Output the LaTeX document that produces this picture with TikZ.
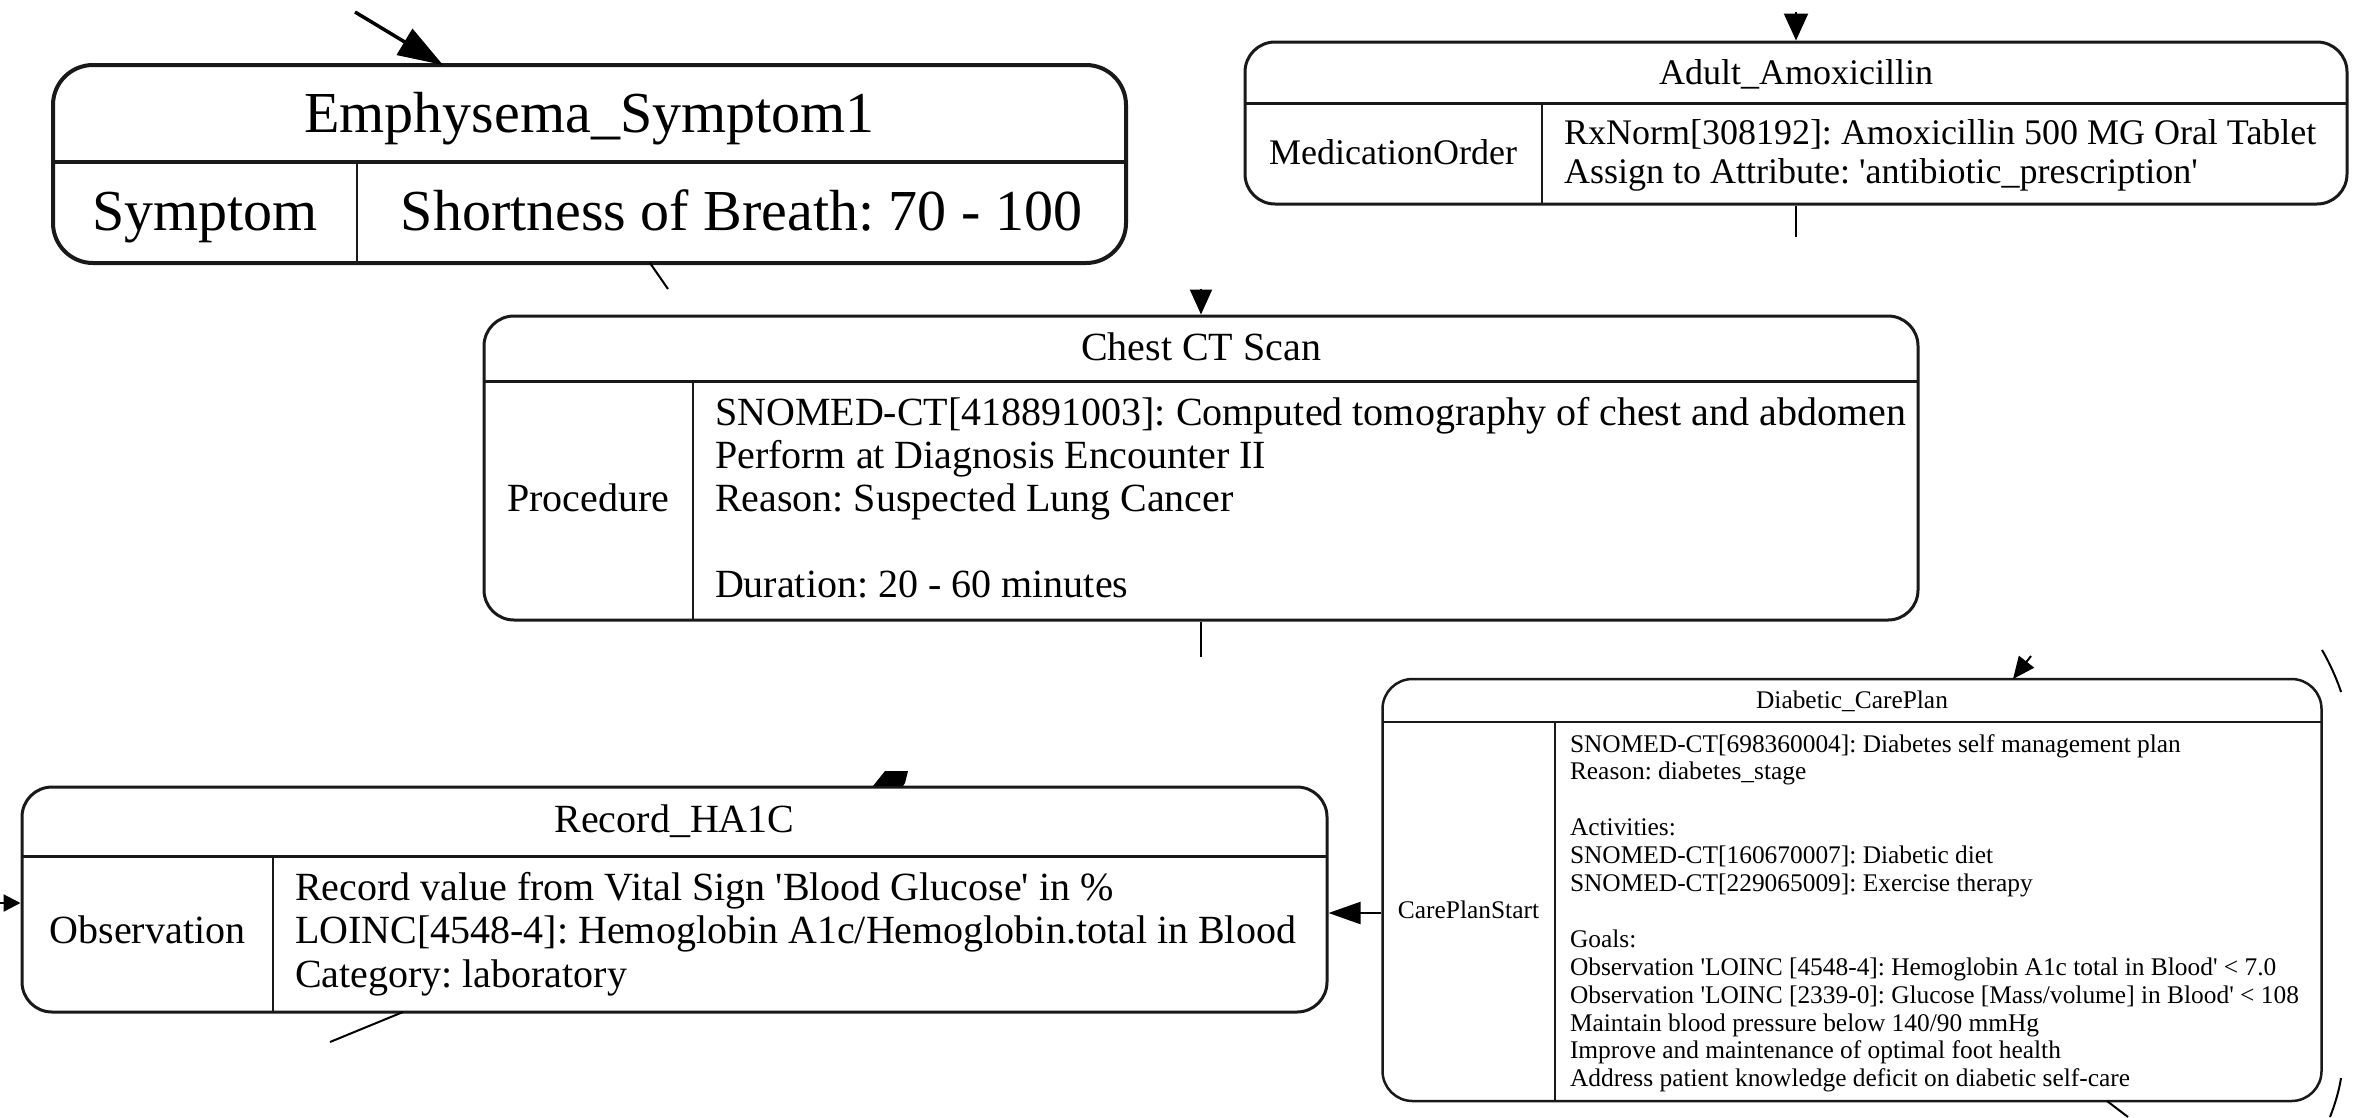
\documentclass[tikz,border=0pt]{standalone}
\usepackage{fontspec}
\setmainfont{Liberation Serif}[Ligatures=TeXOff]
\usetikzlibrary{arrows.meta}
\newcommand\fEm{\fontsize{58}{64}\selectfont}
\newcommand\fAm{\fontsize{36}{40}\selectfont}
\newcommand\fCh{\fontsize{40}{43}\selectfont}
\newcommand\fRe{\fontsize{40}{45}\selectfont}
\newcommand\fDi{\fontsize{25.4}{28}\selectfont}
\begin{document}
\frenchspacing
\begin{tikzpicture}[x=1pt,y=-1pt,
  box/.style={draw=black!90, fill=white, inner sep=0pt, rectangle, rounded corners=30pt},
  div/.style={draw=black!90},
  txt/.style={inner sep=0pt, outer sep=0pt, anchor=base},
  ln/.style={inner sep=0pt, outer sep=0pt, anchor=base west},
  edge/.style={draw=black, line width=2.2pt},
]
\useasboundingbox (0,0) rectangle (2356,1117);

% ---------- Emphysema_Symptom1 ----------
\node[box, line width=4pt, rounded corners=40pt, minimum width=1073pt, minimum height=198pt] (emph) at (589.5,164) {};
\draw[div, line width=3.5pt] (53,162) -- (1126,162);
\draw[div, line width=2.5pt] (357,162) -- (357,263);
\node[txt, font=\fEm] (emphT) at (589.5,132) {Emphysema\_Symptom1};
\node[txt, font=\fEm] (emphK) at (205,230) {Symptom};
\node[txt, font=\fEm] (emphV) at (741.5,230) {Shortness of Breath: 70 - 100};

% ---------- Adult_Amoxicillin ----------
\node[box, line width=3pt, minimum width=1102pt, minimum height=162pt] (amox) at (1796,123) {};
\draw[div, line width=3pt] (1245,103) -- (2347,103);
\draw[div, line width=2pt] (1542,103) -- (1542,204);
\node[txt, font=\fAm] (amoxT) at (1796,84) {Adult\_Amoxicillin};
\node[txt, font=\fAm] (amoxK) at (1393,164) {MedicationOrder};
\node[ln, font=\fAm] (amoxV1) at (1564,144) {RxNorm[308192]: Amoxicillin 500 MG Oral Tablet};
\node[ln, font=\fAm] (amoxV2) at (1564,183) {Assign to Attribute: 'antibiotic\_prescription'};

% ---------- Chest CT Scan ----------
\node[box, line width=3pt, minimum width=1434pt, minimum height=304pt] (chest) at (1201,468) {};
\draw[div, line width=3pt] (484,381) -- (1918,381);
\draw[div, line width=2pt] (693,381) -- (693,620);
\node[txt, font=\fCh] (chestT) at (1201,360) {Chest CT Scan};
\node[txt, font=\fCh] (chestK) at (588.5,511) {Procedure};
\node[ln, font=\fCh] (chestV1) at (715,425) {SNOMED-CT[418891003]: Computed tomography of chest and abdomen};
\node[ln, font=\fCh] (chestV2) at (715,468) {Perform at Diagnosis Encounter II};
\node[ln, font=\fCh] (chestV3) at (715,511) {Reason: Suspected Lung Cancer};
\node[ln, font=\fCh] (chestV5) at (715,597) {Duration: 20 - 60 minutes};

% ---------- Record_HA1C ----------
\node[box, line width=3pt, minimum width=1305pt, minimum height=225pt] (rec) at (674.5,899.5) {};
\draw[div, line width=3pt] (22,856) -- (1327,856);
\draw[div, line width=2pt] (273,856) -- (273,1012);
\node[txt, font=\fRe] (recT) at (674.5,832) {Record\_HA1C};
\node[txt, font=\fRe] (recK) at (147.5,943.5) {Observation};
\node[ln, font=\fRe] (recV1) at (295,900) {Record value from Vital Sign 'Blood Glucose' in \%};
\node[ln, font=\fRe] (recV2) at (295,943.5) {LOINC[4548-4]: Hemoglobin A1c/Hemoglobin.total in Blood};
\node[ln, font=\fRe] (recV3) at (295,987) {Category: laboratory};

% ---------- Diabetic_CarePlan ----------
\node[box, line width=2.5pt, minimum width=939pt, minimum height=422pt] (diab) at (1852,890) {};
\draw[div, line width=2.5pt] (1382,722) -- (2321,722);
\draw[div, line width=2pt] (1555,722) -- (1555,1101);
\node[txt, font=\fDi] (diabT) at (1852,708) {Diabetic\_CarePlan};
\node[txt, font=\fDi] (diabK) at (1468.5,918) {CarePlanStart};
\node[ln, font=\fDi] (diabV1) at (1570,752) {SNOMED-CT[698360004]: Diabetes self management plan};
\node[ln, font=\fDi] (diabV2) at (1570,779.9) {Reason: diabetes\_stage};
\node[ln, font=\fDi] (diabV4) at (1570,835.7) {Activities:};
\node[ln, font=\fDi] (diabV5) at (1570,863.6) {SNOMED-CT[160670007]: Diabetic diet};
\node[ln, font=\fDi] (diabV6) at (1570,891.5) {SNOMED-CT[229065009]: Exercise therapy};
\node[ln, font=\fDi] (diabV8) at (1570,947.3) {Goals:};
\node[ln, font=\fDi] (diabV9) at (1570,975.2) {Observation 'LOINC [4548-4]: Hemoglobin A1c total in Blood' < 7.0};
\node[ln, font=\fDi] (diabV10) at (1570,1003.1) {Observation 'LOINC [2339-0]: Glucose [Mass/volume] in Blood' < 108};
\node[ln, font=\fDi] (diabV11) at (1570,1031) {Maintain blood pressure below 140/90 mmHg};
\node[ln, font=\fDi] (diabV12) at (1570,1058.9) {Improve and maintenance of optimal foot health};
\node[ln, font=\fDi] (diabV13) at (1570,1086.8) {Address patient knowledge deficit on diabetic self-care};

% ---------- connectors ----------
\coordinate (c1s) at (355,12);
\coordinate (c1t) at (443,65);
\draw[edge, line width=3.5pt, -{Triangle[length=45pt,width=30pt]}] (c1s) -- (c1t);

\coordinate (c2s) at (650,263);
\coordinate (c2e) at (668,289);
\draw[edge, line width=2pt] (c2s) -- (c2e);

\coordinate (c3s) at (1796,12);
\draw[edge, -{Triangle[length=27pt,width=24pt]}] (c3s) -- (amox.north);

\coordinate (c4e) at (1796,237);
\draw[edge] (amox.south) -- (c4e);

\coordinate (c5s) at (1201,289);
\draw[edge, -{Triangle[length=25pt,width=22pt]}] (c5s) -- (chest.north);

\coordinate (c6e) at (1201,657);
\draw[edge] (chest.south) -- (c6e);

\fill[black] (873,786) -- (885,771) -- (908,771) -- (905,783) -- (903,786) -- cycle;

\coordinate (y903) at (0,903);
\draw[edge, -{Triangle[length=17pt,width=17pt]}] (y903) -- (rec.west |- y903);

\coordinate (y913) at (0,913);
\draw[edge, -{Triangle[length=32pt,width=22pt]}] (diab.west |- y913) -- (rec.east |- y913);

\coordinate (c10s) at (403,1012);
\coordinate (c10e) at (330,1042);
\draw[edge, line width=2pt] (c10s) -- (c10e);

\coordinate (c11s) at (2031,656);
\coordinate (c11t) at (2013,679);
\draw[edge, line width=2pt, -{Triangle[length=22pt,width=19pt]}] (c11s) -- (c11t);

\coordinate (c12a) at (2322,650);
\coordinate (c12b) at (2341,692);
\draw[edge, line width=2pt] (c12a) .. controls (2328,660) and (2337,679) .. (c12b);
\coordinate (c12c) at (2341,1078);
\coordinate (c12d) at (2330,1117);
\draw[edge, line width=2pt] (c12c) .. controls (2339,1091) and (2335,1104) .. (c12d);

\coordinate (c13s) at (2107,1101);
\coordinate (c13e) at (2128,1117);
\draw[edge, line width=2pt] (c13s) -- (c13e);
\end{tikzpicture}
\end{document}
